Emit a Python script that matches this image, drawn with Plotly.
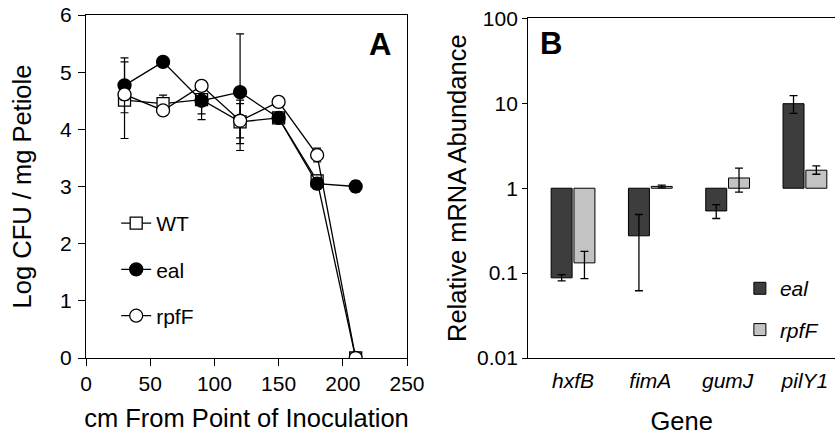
import plotly.graph_objects as go

# ---------------- Panel A data ----------------
distance_cm = [30, 60, 90, 120, 150, 180, 210]
wt_log_cfu = [4.51, 4.45, 4.52, 4.13, 4.20, 3.10, 0.0]
wt_err = [0.67, 0.15, 0.25, 0.38, 0.05, 0.10, 0.0]
eal_log_cfu = [4.77, 5.18, 4.50, 4.65, 4.20, 3.05, 3.0]
eal_err = [0.48, 0.05, 0.33, 1.02, 0.05, 0.10, 0.10]
rpff_log_cfu = [4.61, 4.33, 4.76, 4.15, 4.48, 3.55, 0.0]
rpff_err = [0.10, 0.05, 0.08, 0.30, 0.05, 0.12, 0.0]

# ---------------- Panel B data ----------------
genes = ["hxfB", "fimA", "gumJ", "pilY1"]
eal_abund = [0.088, 0.275, 0.54, 9.9]
eal_err_hi = [0.096, 0.49, 0.64, 12.3]
eal_err_lo = [0.081, 0.062, 0.44, 7.6]
rpff_abund = [0.132, 1.05, 1.32, 1.63]
rpff_err_hi = [0.18, 1.09, 1.72, 1.83]
rpff_err_lo = [0.086, 1.01, 0.90, 1.46]

y_ticks_b = [0.01, 0.1, 1, 10, 100]
y_ticktext_b = ["0.01", "0.1", "1", "10", "100"]

FONT = "Liberation Sans, Arial, sans-serif"
TITLE_SIZE = 25.5
fig = go.Figure()

def line_trace(name, y, err, symbol, fill, size):
    return go.Scatter(
        x=distance_cm, y=y, name=name, mode="lines+markers",
        line=dict(color="black", width=1.3),
        marker=dict(symbol=symbol, size=size, color=fill, line=dict(color="black", width=1.3)),
        error_y=dict(type="data", array=err, visible=True, color="black", thickness=1.2, width=4),
        xaxis="x", yaxis="y", legend="legend", legendgroup=name,
    )

fig.add_trace(line_trace("WT", wt_log_cfu, wt_err, "square", "white", 12))
fig.add_trace(line_trace("eal", eal_log_cfu, eal_err, "circle", "black", 13))
fig.add_trace(line_trace("rpfF", rpff_log_cfu, rpff_err, "circle", "white", 13))

def bar_trace(name, vals, hi, lo, color):
    return go.Bar(
        x=genes, y=[v - 1 for v in vals], base=1, name=name,
        marker=dict(color=color, line=dict(color="black", width=1)),
        error_y=dict(type="data", array=[h - v for h, v in zip(hi, vals)],
                     arrayminus=[v - l for v, l in zip(vals, lo)], symmetric=False,
                     visible=True, color="black", thickness=1.3, width=4),
        xaxis="x2", yaxis="y2", legend="legend2", legendgroup=name,
    )

fig.add_trace(bar_trace("<i>eal</i>", eal_abund, eal_err_hi, eal_err_lo, "#3d3d3d"))
fig.add_trace(bar_trace("<i>rpfF</i>", rpff_abund, rpff_err_hi, rpff_err_lo, "#c3c3c3"))

ydomB = 0.990
axis_common = dict(showline=True, linecolor="black", linewidth=1.4, showgrid=False,
                   zeroline=False, tickcolor="black", tickwidth=1.4, automargin=False,
                   ticklabeloverflow="allow",
                   tickfont=dict(family=FONT, size=21, color="black"))

fig.update_layout(
    width=835, height=435,
    margin=dict(l=86, r=0, t=15, b=77, autoexpand=False),
    paper_bgcolor="white", plot_bgcolor="white",
    font=dict(family=FONT, color="black"),
    barmode="group", bargap=0.41, bargroupgap=0.08,
    xaxis=dict(domain=[0, 0.4286], range=[0, 250], dtick=50, ticks="outside", ticklen=7,
               mirror=True, anchor="y", ticklabelstandoff=0,
               title=dict(text="cm From Point of Inoculation", font=dict(size=TITLE_SIZE), standoff=14),
               **axis_common),
    yaxis=dict(domain=[0, 1], range=[0, 6], dtick=1, ticks="outside", ticklen=7,
               mirror=True, anchor="x", ticklabelstandoff=2,
               title=dict(text="Log CFU / mg Petiole", font=dict(size=TITLE_SIZE), standoff=20),
               **axis_common),
    xaxis2=dict(domain=[0.5905, 1], range=[-0.579, 3.389], type="category", ticks="",
                mirror=True, anchor="y2", ticklabelstandoff=4,
                title=dict(text="Gene", font=dict(size=TITLE_SIZE), standoff=20),
                **{**axis_common, "tickfont": dict(family=FONT, size=21, color="black", style="italic")}),
    yaxis2=dict(domain=[0, ydomB], type="log", range=[-2, 2], tickvals=y_ticks_b,
                ticktext=y_ticktext_b, ticks="outside", ticklen=5, anchor="x2",
                ticklabelstandoff=0,
                title=dict(text="Relative mRNA Abundance", font=dict(size=TITLE_SIZE), standoff=3),
                **axis_common),
    xaxis3=dict(overlaying="x2", anchor="free", position=ydomB / 2, range=[-0.579, 3.389],
                tickvals=[0.5, 1.5, 2.5], showticklabels=False, ticks="outside", ticklen=6,
                showline=True, linecolor="black", linewidth=1.4, tickcolor="black", tickwidth=1.4,
                showgrid=False, zeroline=False, automargin=False),
    legend=dict(x=0.0403, y=0.452, xanchor="left", yanchor="top", bgcolor="rgba(0,0,0,0)",
                font=dict(size=21), tracegroupgap=16, itemwidth=30, traceorder="grouped"),
    legend2=dict(x=0.873, y=0.262, xanchor="left", yanchor="top", bgcolor="rgba(0,0,0,0)",
                 font=dict(size=21), tracegroupgap=11, itemwidth=30, traceorder="grouped"),
    annotations=[
        dict(text="<b>A</b>", x=0.392, y=0.915, xref="paper", yref="paper", showarrow=False,
             font=dict(size=31, family=FONT), xanchor="center", yanchor="middle"),
        dict(text="<b>B</b>", x=0.621, y=0.918, xref="paper", yref="paper", showarrow=False,
             font=dict(size=31, family=FONT), xanchor="center", yanchor="middle"),
    ],
)

# remove the default page margin so the 835x435 figure fills the window exactly
fig.write_html("out.html", config={"displayModeBar": False},
               post_script="document.body.style.margin='0';document.body.style.overflow='hidden';")
